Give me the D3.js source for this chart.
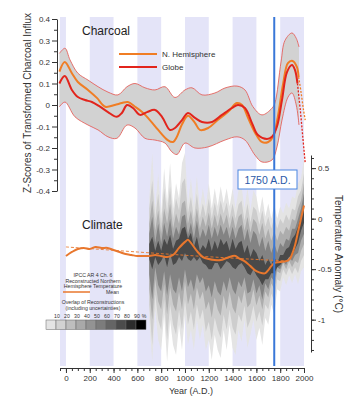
<!DOCTYPE html>
<html>
<head>
<meta charset="utf-8">
<script src="https://cdn.jsdelivr.net/npm/d3@7"></script>
<style>
  body { margin: 0; background: #fff; }
  svg { display: block; font-family: "Liberation Sans", Arial, sans-serif; }
</style>
</head>
<body>
<div id="chart"></div>
<script>
// ---------- data ----------
// lavender century bands (years A.D.)
const bandStarts = [-50, 200, 600, 1000, 1400, 1800];
const bandEnds   = [0, 400, 800, 1200, 1600, 2000];

// charcoal: N. Hemisphere (z-scores)
const nhYears = [-55,-10,50,100,185,260,330,410,470,520,
  580,640,705,775,855,900,930,975,1025,1085,
  1125,1195,1275,1360,1435,1480,1530,1590,1645,1700,
  1740,1780,1825,1865,1905,1940,1955];
const nhZ = [0.155,0.2,0.148,0.107,0.07,0.033,-0.008,0.0,0.009,0.014,
  -0.008,-0.033,-0.07,-0.116,-0.163,-0.172,-0.15,-0.09,-0.05,-0.084,
  -0.116,-0.107,-0.07,-0.033,0.009,0.0,-0.06,-0.13,-0.172,-0.172,
  -0.148,-0.055,0.1,0.195,0.205,0.177,0.13];
const nhDashYears = [1955, 1975, 1995, 2010];
const nhDashZ = [0.13, 0.06, -0.02, -0.07];

// charcoal: Globe
const globeYears = [-55,-10,50,100,160,218,286,353,428,470,
  513,563,622,681,748,807,874,916,975,1025,
  1084,1143,1227,1311,1395,1445,1504,1563,1613,1689,
  1731,1773,1815,1857,1899,1924,1945];
const globeZ = [0.1,0.135,0.07,0.037,0.023,0.014,-0.008,-0.033,-0.055,-0.037,
  0.0,-0.014,-0.046,-0.033,-0.023,-0.055,-0.116,-0.107,-0.07,-0.037,
  -0.06,-0.079,-0.079,-0.046,-0.014,0.0,-0.014,-0.084,-0.14,-0.158,
  -0.148,-0.1,0.023,0.153,0.186,0.163,0.1];
const globeDashYears = [1945, 1970, 1990, 2010];
const globeDashZ = [0.1, -0.03, -0.15, -0.27];

// charcoal confidence envelope
const upperYears = [-55,-8,34,100,185,270,353,437,513,580,
  664,748,832,916,1000,1059,1143,1252,1336,1437,
  1504,1571,1647,1731,1756,1807,1840,1899,1935,1958];
const upperZ = [0.24,0.264,0.21,0.148,0.116,0.085,0.06,0.047,0.085,0.1,
  0.08,0.07,0.085,0.035,0.07,0.08,0.047,0.056,0.079,0.088,
  0.07,-0.008,-0.046,-0.015,0.01,0.2,0.3,0.335,0.31,0.27];
const lowerYears = [-55,-8,76,185,270,353,428,513,580,664,
  748,832,890,933,1000,1084,1193,1336,1437,1504,
  1588,1647,1731,1773,1815,1866,1899,1935,1958];
const lowerZ = [-0.008,0.014,-0.055,-0.093,-0.116,-0.148,-0.155,-0.093,-0.107,-0.155,
  -0.163,-0.177,-0.218,-0.23,-0.177,-0.2,-0.195,-0.163,-0.148,-0.163,
  -0.233,-0.265,-0.256,-0.195,-0.07,0.037,0.056,0.0,-0.093];

// climate: reconstructed NH temperature mean (deg C)
const meanYears = [0,50,100,150,200,250,300,350,400,450,
  500,550,600,650,700,750,800,850,900,950,
  1000,1025,1050,1100,1150,1200,1250,1300,1350,1400,
  1425,1450,1500,1550,1600,1650,1675,1700,1725,1750,
  1800,1850,1880,1900,1925,1950,1975,2000];
const meanT = [-0.37,-0.33,-0.30,-0.29,-0.30,-0.28,-0.29,-0.29,-0.31,-0.33,
  -0.35,-0.36,-0.37,-0.37,-0.37,-0.36,-0.37,-0.38,-0.36,-0.29,
  -0.23,-0.21,-0.24,-0.32,-0.38,-0.40,-0.41,-0.41,-0.39,-0.37,
  -0.37,-0.39,-0.42,-0.47,-0.52,-0.54,-0.54,-0.51,-0.47,-0.44,
  -0.43,-0.42,-0.40,-0.35,-0.26,-0.13,0.0,0.13];
const trendYears = [0, 600, 1100, 1700, 1880];
const trendT = [-0.28, -0.33, -0.37, -0.41, -0.42];

// climate: overlap of reconstructions, nested envelopes (light -> dark)
const climYears = [700,725,750,775,800,825,850,875,900,925,
  950,975,1000,1025,1050,1075,1100,1125,1150,1175,
  1200,1225,1250,1275,1300,1325,1350,1375,1400,1425,
  1450,1475,1500,1525,1550,1575,1600,1625,1650,1675,
  1700,1725,1750,1775,1800,1825,1850,1875,1900,1925,
  1950,1975,2000];
const b1Hi = [0.20,0.65,0.10,0.45,0.05,0.50,0.15,0.55,0.10,0.35,
  0.20,0.55,0.65,0.15,0.40,0.12,0.42,0.10,0.30,0.12,
  0.35,0.10,0.30,0.12,0.32,0.15,0.30,0.12,0.30,0.10,
  0.28,0.32,0.10,0.30,0.08,0.28,0.22,0.05,0.22,0.02,
  0.15,0.00,0.14,0.00,0.12,0.05,0.16,0.10,0.22,0.20,
  0.35,0.40,0.60];
const b1Lo = [-1.00,-1.42,-0.90,-1.20,-1.30,-0.95,-1.42,-1.00,-1.25,-1.35,
  -1.05,-1.30,-0.95,-1.25,-1.10,-1.30,-1.00,-1.20,-1.05,-1.30,
  -1.20,-1.40,-1.15,-1.30,-1.38,-1.10,-1.30,-1.05,-1.28,-1.35,
  -1.10,-1.22,-1.00,-1.28,-1.15,-1.00,-1.20,-1.08,-1.25,-0.98,
  -1.05,-0.85,-0.95,-0.70,-0.72,-0.58,-0.66,-0.56,-0.64,-0.55,
  -0.65,-0.52,-0.48];
const b2Hi = [0.10,0.38,0.00,0.25,-0.05,0.30,0.05,0.32,0.00,0.20,
  0.08,0.35,0.40,0.05,0.22,0.00,0.25,0.00,0.15,0.02,
  0.20,0.00,0.16,0.02,0.18,0.05,0.16,0.00,0.15,0.00,
  0.14,0.18,-0.02,0.15,-0.04,0.12,0.08,-0.06,0.08,-0.08,
  0.02,-0.10,0.02,-0.10,0.00,-0.05,0.04,-0.02,0.10,0.08,
  0.22,0.28,0.45];
const b2Lo = [-0.85,-1.25,-0.75,-1.00,-1.10,-0.80,-1.20,-0.85,-1.05,-1.15,
  -0.90,-1.10,-0.80,-1.05,-0.92,-1.10,-0.85,-1.00,-0.90,-1.12,
  -1.02,-1.20,-0.98,-1.10,-1.18,-0.95,-1.10,-0.90,-1.08,-1.15,
  -0.95,-1.02,-0.86,-1.08,-1.00,-0.86,-1.02,-0.92,-1.06,-0.85,
  -0.90,-0.74,-0.82,-0.60,-0.62,-0.50,-0.56,-0.48,-0.55,-0.48,
  -0.54,-0.42,-0.36];
const b3Hi = [-0.05,0.18,-0.12,0.08,-0.15,0.10,-0.05,0.15,-0.10,0.05,
  -0.05,0.15,0.18,-0.05,0.08,-0.10,0.10,-0.10,0.02,-0.08,
  0.06,-0.10,0.04,-0.08,0.05,-0.06,0.04,-0.10,0.03,-0.10,
  0.02,0.05,-0.12,0.02,-0.14,0.00,-0.04,-0.16,-0.04,-0.20,
  -0.10,-0.22,-0.12,-0.22,-0.12,-0.16,-0.08,-0.12,0.00,-0.02,
  0.10,0.18,0.35];
const b3Lo = [-0.70,-1.00,-0.60,-0.82,-0.90,-0.65,-0.95,-0.68,-0.85,-0.92,
  -0.72,-0.90,-0.62,-0.85,-0.74,-0.90,-0.68,-0.80,-0.72,-0.90,
  -0.82,-0.98,-0.78,-0.90,-0.96,-0.76,-0.90,-0.72,-0.88,-0.94,
  -0.76,-0.84,-0.70,-0.88,-0.84,-0.70,-0.86,-0.76,-0.90,-0.72,
  -0.78,-0.64,-0.70,-0.52,-0.54,-0.44,-0.50,-0.42,-0.48,-0.42,
  -0.44,-0.32,-0.25];
const b4Hi = [-0.15,0.02,-0.24,-0.05,-0.25,-0.04,-0.18,0.00,-0.20,-0.08,
  -0.16,0.02,0.04,-0.16,-0.04,-0.20,-0.02,-0.20,-0.10,-0.18,
  -0.06,-0.20,-0.08,-0.18,-0.06,-0.16,-0.08,-0.20,-0.08,-0.20,
  -0.10,-0.06,-0.22,-0.10,-0.24,-0.12,-0.16,-0.28,-0.18,-0.32,
  -0.22,-0.34,-0.24,-0.34,-0.24,-0.28,-0.20,-0.22,-0.10,-0.10,
  0.00,0.10,0.25];
const b4Lo = [-0.55,-0.80,-0.48,-0.66,-0.72,-0.52,-0.76,-0.55,-0.70,-0.74,
  -0.58,-0.72,-0.50,-0.68,-0.60,-0.72,-0.55,-0.64,-0.58,-0.72,
  -0.66,-0.78,-0.62,-0.72,-0.76,-0.62,-0.72,-0.58,-0.70,-0.75,
  -0.62,-0.68,-0.58,-0.74,-0.72,-0.60,-0.74,-0.66,-0.80,-0.64,
  -0.70,-0.58,-0.62,-0.48,-0.50,-0.42,-0.46,-0.38,-0.42,-0.36,
  -0.34,-0.22,-0.15];
const b5Hi = [-0.25,-0.18,-0.32,-0.22,-0.32,-0.20,-0.26,-0.16,-0.30,-0.22,
  -0.20,-0.10,-0.08,-0.20,-0.14,-0.28,-0.18,-0.32,-0.26,-0.30,
  -0.20,-0.32,-0.22,-0.30,-0.20,-0.26,-0.22,-0.32,-0.20,-0.30,
  -0.24,-0.22,-0.34,-0.26,-0.38,-0.30,-0.34,-0.42,-0.36,-0.46,
  -0.40,-0.46,-0.38,-0.44,-0.36,-0.36,-0.30,-0.28,-0.20,-0.16,
  -0.08,0.02,0.14];
const b5Lo = [-0.40,-0.50,-0.38,-0.46,-0.42,-0.36,-0.48,-0.34,-0.46,-0.44,
  -0.38,-0.42,-0.34,-0.40,-0.42,-0.38,-0.42,-0.38,-0.44,-0.46,
  -0.50,-0.50,-0.44,-0.44,-0.50,-0.46,-0.42,-0.44,-0.48,-0.50,
  -0.46,-0.44,-0.48,-0.54,-0.56,-0.50,-0.56,-0.60,-0.66,-0.60,
  -0.60,-0.54,-0.54,-0.48,-0.46,-0.42,-0.42,-0.38,-0.36,-0.30,
  -0.24,-0.12,-0.04];
const envelopeShades = ["#e4e4e4", "#cdcdcd", "#adadad", "#838383", "#484848"];

// overlap legend
const overlapLabels = ["10", "20", "30", "40", "50", "60", "70", "80", "90"];
const overlapShades = ["#e4e4e4","#d2d2d2","#bebebe","#a9a9a9","#939393",
  "#7c7c7c","#656565","#4b4b4b","#2c2c2c","#000000"];

// axis ticks
const zTicks = [0.4, 0.3, 0.2, 0.1, 0, -0.1, -0.2, -0.3, -0.4];
const tTicks = [0.5, 0, -0.5, -1];
const yearTicks = [0, 200, 400, 600, 800, 1000, 1200, 1400, 1600, 1800, 2000];

// ---------- chart ----------
const width = 350, height = 406;
const svg = d3.select("#chart").append("svg")
    .attr("width", width).attr("height", height);

svg.append("rect").attr("width", width).attr("height", height).attr("fill", "#fff");

const plotTop = 17, plotBottom = 366;
const x = d3.scaleLinear().domain([-50, 2000]).range([60, 304]);
const yZ = d3.scaleLinear().domain([-0.4, 0.4]).range([191, 19]);
const yT = d3.scaleLinear().domain([-1.32, 0.63]).range([352, 155]);

// lavender bands
svg.append("g").selectAll("rect")
    .data(d3.zip(bandStarts, bandEnds))
    .join("rect")
    .attr("x", d => x(d[0]))
    .attr("y", plotTop)
    .attr("width", d => x(d[1]) - x(d[0]))
    .attr("height", plotBottom - plotTop)
    .attr("fill", "#e4e4f8");

// climate overlap envelopes
const envelopes = [[b1Hi, b1Lo], [b2Hi, b2Lo], [b3Hi, b3Lo], [b4Hi, b4Lo], [b5Hi, b5Lo]];
const envArea = d3.area()
    .x(d => x(d.year))
    .y0(d => yT(d.lo))
    .y1(d => yT(d.hi));

const defs = svg.append("defs");
defs.append("filter").attr("id", "soft")
    .append("feGaussianBlur").attr("stdDeviation", 0.5);

svg.append("g").attr("filter", "url(#soft)")
    .selectAll("path")
    .data(envelopes)
    .join("path")
    .attr("d", e => envArea(climYears.map((yr, i) => ({ year: yr, hi: e[0][i], lo: e[1][i] }))))
    .attr("fill", (e, i) => envelopeShades[i]);

// climate mean + long-term trend
const tLine = d3.line()
    .x(d => x(d[0])).y(d => yT(d[1]))
    .curve(d3.curveCatmullRom.alpha(0.5));

svg.append("path")
    .attr("d", tLine(d3.zip(trendYears, trendT)))
    .attr("fill", "none").attr("stroke", "#e8772e")
    .attr("stroke-width", 0.9).attr("stroke-dasharray", "3,2");

svg.append("path")
    .attr("d", tLine(d3.zip(meanYears, meanT)))
    .attr("fill", "none").attr("stroke", "#e8772e")
    .attr("stroke-width", 2);

// charcoal envelope
const zLine = d3.line()
    .x(d => x(d[0])).y(d => yZ(d[1]))
    .curve(d3.curveCatmullRom.alpha(0.5));

const upPts = d3.zip(upperYears, upperZ);
const loPts = d3.zip(lowerYears, lowerZ);
svg.append("path")
    .attr("d", zLine(upPts) + zLine(loPts.slice().reverse()).replace(/^M/, "L") + "Z")
    .attr("fill", "#d2d2d2");

[upPts, loPts].forEach(pts => {
    svg.append("path")
        .attr("d", zLine(pts))
        .attr("fill", "none").attr("stroke", "#e4625c").attr("stroke-width", 0.9);
});

// charcoal series
svg.append("path")
    .attr("d", zLine(d3.zip(nhYears, nhZ)))
    .attr("fill", "none").attr("stroke", "#f07d24").attr("stroke-width", 2);
svg.append("path")
    .attr("d", zLine(d3.zip(nhDashYears, nhDashZ)))
    .attr("fill", "none").attr("stroke", "#f07d24").attr("stroke-width", 1.3)
    .attr("stroke-dasharray", "2,1.5");

svg.append("path")
    .attr("d", zLine(d3.zip(globeYears, globeZ)))
    .attr("fill", "none").attr("stroke", "#e2241c").attr("stroke-width", 2);
svg.append("path")
    .attr("d", zLine(d3.zip(globeDashYears, globeDashZ)))
    .attr("fill", "none").attr("stroke", "#e2241c").attr("stroke-width", 1.3)
    .attr("stroke-dasharray", "2,1.5");

// 1750 A.D. marker
svg.append("line")
    .attr("x1", x(1750)).attr("x2", x(1750))
    .attr("y1", plotTop).attr("y2", plotBottom)
    .attr("stroke", "#3a78d8").attr("stroke-width", 2);

svg.append("rect")
    .attr("x", 238).attr("y", 170).attr("width", 59).attr("height", 19)
    .attr("fill", "#fff").attr("stroke", "#4a86e0").attr("stroke-width", 1);
svg.append("text")
    .attr("x", 267.5).attr("y", 184)
    .attr("text-anchor", "middle")
    .attr("font-size", "10.5px").attr("fill", "#2b5aa8")
    .text("1750 A.D.");

// ---------- axes ----------
const styleAxis = g => {
    g.attr("font-family", "Liberation Sans, Arial, sans-serif")
        .attr("font-size", 8);
    g.select(".domain").attr("stroke", "#333");
    g.selectAll(".tick line").attr("stroke", "#333");
    g.selectAll(".tick text").attr("fill", "#333");
};

// left: z-scores
svg.append("g")
    .attr("transform", "translate(57,0)")
    .call(d3.axisLeft(yZ).tickValues(zTicks)
        .tickFormat(d => d === 0 ? "0" : d.toFixed(1))
        .tickSize(5).tickSizeOuter(0).tickPadding(2))
    .call(styleAxis);
svg.append("g")
    .attr("transform", "translate(57,0)")
    .call(d3.axisLeft(yZ).tickValues(d3.range(-0.35, 0.4, 0.1)).tickFormat("").tickSize(3))
    .call(g => g.select(".domain").remove())
    .call(styleAxis);

// right: temperature anomaly
svg.append("g")
    .attr("transform", "translate(311,0)")
    .call(d3.axisRight(yT).tickValues(tTicks)
        .tickFormat(d => d === 0 ? "0" : String(d))
        .tickSize(5).tickSizeOuter(0).tickPadding(2))
    .call(styleAxis);
svg.append("g")
    .attr("transform", "translate(311,0)")
    .call(d3.axisRight(yT).tickValues(d3.range(-13, 7).map(v => v / 10)).tickFormat("").tickSize(3))
    .call(g => g.select(".domain").remove())
    .call(styleAxis);

// bottom: years
svg.append("g")
    .attr("transform", "translate(0,368)")
    .call(d3.axisBottom(x).tickValues(yearTicks)
        .tickFormat(d3.format("d"))
        .tickSize(5).tickSizeOuter(0).tickPadding(2))
    .call(styleAxis);
svg.append("g")
    .attr("transform", "translate(0,368)")
    .call(d3.axisBottom(x).tickValues(d3.range(-50, 2001, 50)).tickFormat("").tickSize(3))
    .call(g => g.select(".domain").remove())
    .call(styleAxis);

// axis titles
svg.append("text")
    .attr("transform", "translate(30.5,103) rotate(-90)")
    .attr("text-anchor", "middle")
    .attr("font-size", "10px").attr("fill", "#333")
    .text("Z-Scores of Transformed Charcoal Influx");

svg.append("text")
    .attr("transform", "translate(334.5,254) rotate(90)")
    .attr("text-anchor", "middle")
    .attr("font-size", "10px").attr("fill", "#333")
    .text("Temperature Anomaly (°C)");

svg.append("text")
    .attr("x", 191).attr("y", 394)
    .attr("text-anchor", "middle")
    .attr("font-size", "9px").attr("fill", "#333")
    .text("Year (A.D.)");

// panel titles
svg.append("text").attr("x", 82).attr("y", 35)
    .attr("font-size", "12px").attr("fill", "#222").text("Charcoal");
svg.append("text").attr("x", 82).attr("y", 229)
    .attr("font-size", "12px").attr("fill", "#222").text("Climate");

// charcoal legend
const legendItems = [["N. Hemisphere", "#f07d24", 54], ["Globe", "#e2241c", 67]];
legendItems.forEach(([label, color, ly]) => {
    svg.append("line")
        .attr("x1", 119).attr("x2", 157).attr("y1", ly).attr("y2", ly)
        .attr("stroke", color).attr("stroke-width", 2);
    svg.append("text")
        .attr("x", 162).attr("y", ly + 3)
        .attr("font-size", "8px").attr("fill", "#333")
        .text(label);
});

// climate legend
const smallText = (tx, ty, s, anchor = "middle") => svg.append("text")
    .attr("x", tx).attr("y", ty)
    .attr("text-anchor", anchor)
    .attr("font-size", "5.2px").attr("fill", "#333")
    .text(s);

smallText(93, 277, "IPCC AR 4 Ch. 6");
smallText(93, 282.5, "Reconstructed Northern");
smallText(93, 288, "Hemisphere Temperature");
svg.append("line")
    .attr("x1", 63).attr("x2", 90).attr("y1", 292).attr("y2", 292)
    .attr("stroke", "#e8772e").attr("stroke-width", 1.5);
smallText(106, 294, "Mean", "start");
smallText(93, 304, "Overlap of Reconstructions");
smallText(93, 309.5, "(including  uncertainties)");

const cellX = d3.scaleBand().domain(d3.range(overlapShades.length)).range([46, 146]);
svg.append("g").selectAll("rect")
    .data(overlapShades)
    .join("rect")
    .attr("x", (d, i) => cellX(i))
    .attr("y", 320)
    .attr("width", cellX.bandwidth())
    .attr("height", 9.5)
    .attr("fill", d => d)
    .attr("stroke", "#666").attr("stroke-width", 0.5);

overlapLabels.forEach((s, i) => smallText(cellX(i) + cellX.bandwidth() + 1, 318, s));
smallText(144, 318, "%");
</script>
</body>
</html>
